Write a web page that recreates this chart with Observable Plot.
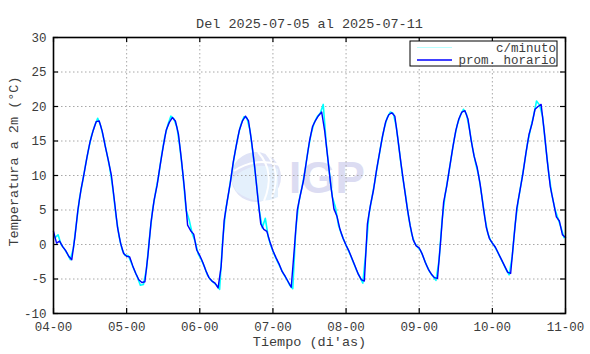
<!DOCTYPE html>
<html><head><meta charset="utf-8">
<script src="https://cdn.jsdelivr.net/npm/d3@7"></script>
<script src="https://cdn.jsdelivr.net/npm/@observablehq/plot@0.6"></script>
<style>
body{margin:0;background:#fff}
#chart svg{font-family:"Liberation Mono","DejaVu Sans Mono",monospace;background:#fff}
</style>
</head><body><div id="chart"></div>
<script>
const title = "Del 2025-07-05 al 2025-07-11";
const xLabel = "Tiempo (di'as)";
const yLabel = "Temperatura a 2m (°C)";
const seriesNames = ["c/minuto", "prom. horario"];
const dayLabels = ["04-00","05-00","06-00","07-00","08-00","09-00","10-00","11-00"];
const yTickValues = [-10,-5,0,5,10,15,20,25,30];

// hourly means, one per hour from 04-00 (hour 0) to 11-00 (hour 168)
const hourly = [
  1.9, 0.2, 0.5, -0.3, -0.9, -1.7, -2.2, 1.0, 5.0, 7.9, 10.2, 12.7, 14.9, 16.5, 17.8, 17.9, 16.4, 14.2, 12.2, 10.0, 6.3, 2.5, 0.2, -1.3,
  -1.7, -1.8, -3.1, -4.2, -5.1, -5.5, -5.4, -1.5, 3.2, 6.4, 8.6, 11.5, 14.2, 16.6, 17.7, 18.4, 17.9, 16.0, 12.2, 7.9, 2.8, 2.0, 1.5, -0.8,
  -1.6, -2.6, -3.8, -4.8, -5.3, -5.6, -6.3, -3.2, 3.5, 6.3, 8.9, 12.0, 14.4, 16.6, 17.9, 18.6, 17.9, 14.9, 11.3, 7.0, 3.0, 2.2, 1.9, 0.4,
  -0.9, -1.9, -2.8, -3.9, -4.6, -5.4, -6.2, -0.7, 5.0, 7.2, 9.2, 12.1, 15.0, 17.1, 18.0, 18.7, 19.2, 16.4, 12.5, 8.5, 5.2, 4.1, 2.2, 0.9,
  -0.1, -1.0, -2.1, -3.2, -4.3, -5.1, -5.3, 3.0, 5.7, 7.9, 10.8, 13.3, 15.8, 17.8, 18.8, 19.1, 18.6, 15.3, 11.8, 8.6, 5.5, 2.8, 0.7, -0.2,
  -0.5, -1.4, -2.6, -3.6, -4.3, -4.8, -4.9, 0.3, 6.1, 8.4, 11.2, 14.0, 16.5, 18.2, 19.2, 19.4, 18.2, 15.2, 12.8, 11.2, 8.7, 5.5, 2.5, 0.9,
  0.2, -0.4, -1.3, -2.2, -3.1, -4.0, -4.2, 0.6, 5.2, 7.7, 10.2, 13.2, 15.9, 17.5, 19.6, 20.0, 20.3, 16.5, 12.2, 8.4, 6.2, 4.0, 3.4, 1.4,
  1.0
];

const minute = [
  1.0, 1.4, 0.0, -0.6, -1.3, -2.2, -0.6, 3.0, 6.6, 9.0, 11.5, 13.8, 15.8, 17.2, 18.3, 17.2, 15.3, 13.2, 11.0, 8.0, 4.2, 1.2, -0.7, -1.6,
  -1.6, -2.6, -3.7, -4.7, -5.9, -5.8, -3.6, 1.0, 5.0, 7.6, 10.0, 13.0, 15.6, 17.3, 18.6, 18.2, 17.0, 14.0, 10.0, 5.0, 3.6, 1.6, 0.4, -1.4,
  -2.2, -3.2, -4.4, -5.1, -5.5, -5.9, -6.5, 0.5, 5.0, 7.6, 10.4, 13.2, 15.6, 17.4, 18.5, 18.3, 16.5, 13.0, 9.2, 5.0, 2.4, 3.8, 1.0, -0.4,
  -1.5, -2.5, -3.4, -4.3, -5.0, -5.9, -6.4, 2.2, 6.2, 8.2, 10.6, 13.6, 16.0, 17.6, 18.5, 19.0, 20.3, 14.6, 10.5, 6.9, 5.4, 2.8, 1.5, 0.4,
  -0.6, -1.6, -2.7, -3.8, -4.7, -5.6, -1.0, 4.4, 6.8, 9.3, 12.0, 14.6, 16.8, 18.4, 19.2, 19.0, 17.0, 13.5, 10.0, 7.2, 4.0, 1.6, 0.2, -0.4,
  -0.9, -2.0, -3.1, -4.0, -4.6, -5.2, -2.3, 3.5, 7.2, 9.8, 12.6, 15.3, 17.4, 18.7, 19.6, 18.9, 16.7, 14.0, 11.8, 10.0, 7.2, 4.0, 1.6, 0.5,
  -0.1, -0.9, -1.8, -2.7, -3.6, -4.4, -1.8, 3.0, 6.4, 9.0, 11.7, 14.6, 16.7, 18.6, 20.8, 20.2, 18.5, 14.3, 10.3, 7.3, 5.2, 3.8, 2.5, 1.0
];

const colors = ["#00ffff", "#0000ff"];
const hourlyData = hourly.map((v, i) => ({t: i, v}));
const minuteData = minute.map((v, i) => ({t: i + 0.5, v}));
const xTicks = dayLabels.map((_, i) => i * 24);

const W = 590, H = 354, mL = 53, mR = 25, mT = 37, mB = 41;
const fw = W - mL - mR, fh = H - mT - mB;
const grid = {stroke: "#a8a8a8", strokeOpacity: 1, strokeWidth: 1, strokeDasharray: "1.5,2.5"};
const txt = "#3c3c3c";

const plot = Plot.plot({
  width: W, height: H,
  marginLeft: mL, marginRight: mR, marginTop: mT, marginBottom: mB,
  style: {fontFamily: "Liberation Mono, DejaVu Sans Mono, monospace", fontSize: "12.5px", color: txt, background: "#fff"},
  x: {domain: [0, 168], ticks: xTicks},
  y: {domain: [-10, 30], ticks: yTickValues},
  marks: [
    Plot.gridX(xTicks, grid),
    Plot.gridY(yTickValues, grid),
    Plot.line(minuteData, {x: "t", y: "v", stroke: colors[0], strokeWidth: 1.6}),
    Plot.line(hourlyData, {x: "t", y: "v", stroke: colors[1], strokeWidth: 1.4}),
    Plot.ruleX(xTicks, {insetTop: fh - 5, stroke: "#000", strokeWidth: 1.2}),
    Plot.ruleX(xTicks, {insetBottom: fh - 5, stroke: "#000", strokeWidth: 1.2}),
    Plot.ruleY(yTickValues, {insetRight: fw - 5, stroke: "#000", strokeWidth: 1.2}),
    Plot.ruleY(yTickValues, {insetLeft: fw - 5, stroke: "#000", strokeWidth: 1.2}),
    Plot.frame({stroke: "#000", strokeWidth: 1.6}),
    Plot.axisX(xTicks, {tickSize: 0, tickPadding: 9, label: null, fontSize: 12.5, tickFormat: d => dayLabels[Math.round(d / 24)], fill: txt}),
    Plot.axisY(yTickValues, {tickSize: 0, tickPadding: 7, label: null, fontSize: 12.5, tickFormat: d => String(d), fill: txt}),
    Plot.text([title], {text: d => d, frameAnchor: "top", dy: -19, fontSize: 13.5, fill: txt}),
    Plot.text([xLabel], {text: d => d, frameAnchor: "bottom", dy: 32, fontSize: 13.5, fill: txt}),
    Plot.text([yLabel], {text: d => d, frameAnchor: "left", textAnchor: "middle", dx: -40, dy: -14, rotate: -90, fontSize: 13.5, fill: txt})
  ]
});

const svg = d3.select(plot);
// IGP watermark (behind everything)
const wm = svg.insert("g", ":first-child").attr("class", "watermark");
const cx = mL + fw / 2 - 53, cy = mT + fh / 2 + 2;
wm.append("circle").attr("cx", cx).attr("cy", cy).attr("r", 25).attr("fill", "#dfe3f6");
wm.append("path").attr("d", `M${cx-25},${cy+3} Q${cx-5},${cy-18} ${cx+22},${cy-8} L${cx+22},${cy+20} Q${cx},${cy+30} ${cx-20},${cy+14} Z`).attr("fill", "#e4f0fc");
wm.append("path").attr("d", `M${cx+2},${cy-25} Q${cx+20},${cy-5} ${cx+8},${cy+24}`).attr("fill", "none").attr("stroke", "#fff").attr("stroke-width", 2);
wm.append("path").attr("d", `M${cx+10},${cy-24} Q${cx+26},${cy-6} ${cx+16},${cy+20}`).attr("fill", "none").attr("stroke", "#fff").attr("stroke-width", 2);
wm.append("path").attr("d", `M${cx-22},${cy-6} Q${cx-2},${cy-20} ${cx+24},${cy-12}`).attr("fill", "none").attr("stroke", "#fff").attr("stroke-width", 2);
wm.append("text").attr("x", mL + fw / 2 + 18).attr("y", cy + 16).attr("text-anchor", "middle")
  .attr("font-family", "Liberation Sans, Arial, sans-serif").attr("font-weight", "bold").attr("font-size", 44)
  .attr("fill", "#dcdcf2").text("IGP");

// legend box (top right, inside the frame)
const lg = svg.append("g").attr("class", "legend");
const lx0 = 410, lx1 = 557, ly0 = 41, ly1 = 66;
lg.append("rect").attr("x", lx0).attr("y", ly0).attr("width", lx1 - lx0).attr("height", ly1 - ly0)
  .attr("fill", "#fff").attr("stroke", "#000").attr("stroke-width", 1);
seriesNames.forEach((name, i) => {
  const y = 47.5 + i * 12.5;
  lg.append("line").attr("x1", 417).attr("x2", 452).attr("y1", y).attr("y2", y)
    .attr("stroke", i === 0 ? "#b8ffff" : colors[1]).attr("stroke-width", i === 0 ? 1 : 1.5);
  lg.append("text").attr("x", 556).attr("y", y).attr("dy", "0.35em").attr("text-anchor", "end")
    .attr("font-size", 12.5).attr("fill", txt).text(name);
});

document.getElementById("chart").appendChild(plot);
</script>
</body></html>
